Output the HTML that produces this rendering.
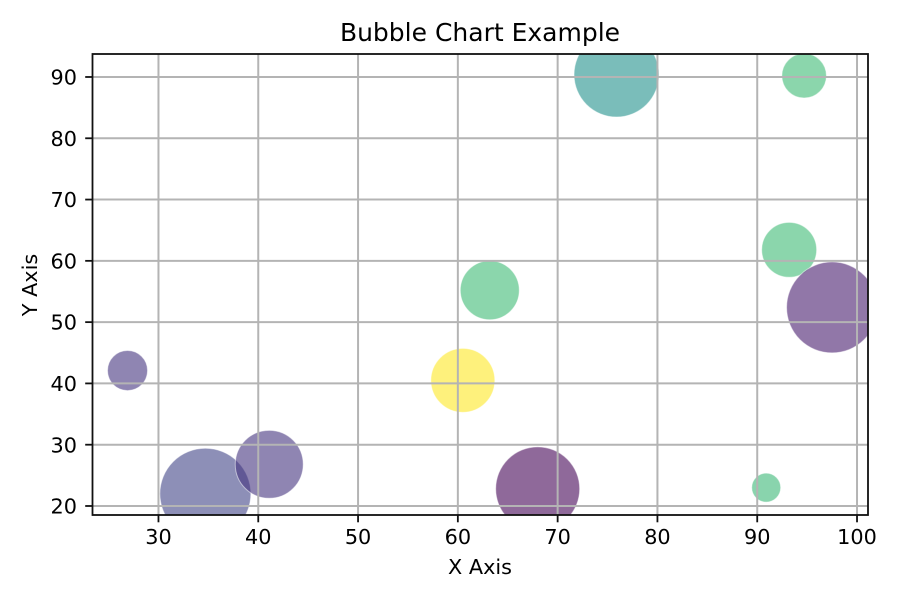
<!DOCTYPE html>
<html>
<head>
<meta charset="utf-8">
<style>
html,body{margin:0;padding:0;background:#fff;}
svg{display:block;}
text{font-family:"DejaVu Sans","Liberation Sans",sans-serif;fill:#000;}
</style>
</head>
<body>
<svg id="chart" width="900" height="600" viewBox="0 0 900 600" xmlns="http://www.w3.org/2000/svg">
  <defs><clipPath id="plot-clip"><rect x="92.5" y="54" width="775.5" height="461"></rect></clipPath></defs>
  <rect width="900" height="600" fill="#fff"></rect>
  <g id="bubbles" clip-path="url(#plot-clip)"></g>
  <g id="grid"></g>
  <g id="ticks"></g>
  <rect x="92.5" y="54" width="775.5" height="461" fill="none" stroke="#111" stroke-width="1.8"></rect>
  <text x="480" y="41" font-size="25" text-anchor="middle">Bubble Chart Example</text>
  <text x="480" y="574" font-size="20.8" text-anchor="middle">X Axis</text>
  <text transform="translate(37,285) rotate(-90)" font-size="20.8" text-anchor="middle">Y Axis</text>
</svg>
<script>
const xValues = [26.9, 34.7, 41.1, 60.5, 63.2, 68.0, 75.9, 90.9, 93.2, 94.7, 97.5];
const yValues = [42.1, 22.0, 26.8, 40.5, 55.2, 22.8, 90.4, 23.0, 61.8, 90.2, 52.4];
const sizeValues = [290, 1498, 836, 741, 630, 1277, 1307, 152, 547, 360, 1498];
const colorValues = [0.15, 0.2, 0.15, 1.0, 0.68, 0.01, 0.5, 0.67, 0.68, 0.68, 0.08];
const xTickLabels = [30, 40, 50, 60, 70, 80, 90, 100];
const yTickLabels = [20, 30, 40, 50, 60, 70, 80, 90];
const xDomain = [23.39, 101.1];
const yDomain = [18.53, 93.75];

const plot = {left: 92.5, right: 868, top: 54, bottom: 515};
const viridis = ['#440154','#482475','#414487','#355f8d','#2a788e','#21918c','#22a884','#44bf70','#7ad151','#bddf26','#fde725'];
const NS = 'http://www.w3.org/2000/svg';

function xScale(v) {
  return plot.left + (v - xDomain[0]) / (xDomain[1] - xDomain[0]) * (plot.right - plot.left);
}
function yScale(v) {
  return plot.bottom - (v - yDomain[0]) / (yDomain[1] - yDomain[0]) * (plot.bottom - plot.top);
}
function radius(s) {
  return Math.sqrt(s / Math.PI) * 150 / 72;
}
function hexToRgb(h) {
  return [1, 3, 5].map(function (i) { return parseInt(h.substr(i, 2), 16); });
}
function colorScale(t) {
  const p = Math.max(0, Math.min(1, t)) * (viridis.length - 1);
  const i = Math.min(Math.floor(p), viridis.length - 2);
  const a = hexToRgb(viridis[i]), b = hexToRgb(viridis[i + 1]);
  const f = p - i;
  return 'rgb(' + a.map(function (c, k) { return Math.round(c + (b[k] - c) * f); }).join(',') + ')';
}
function make(tag, parent, attrs) {
  const el = document.createElementNS(NS, tag);
  Object.keys(attrs).forEach(function (k) { el.setAttribute(k, attrs[k]); });
  parent.appendChild(el);
  return el;
}

const bubblesG = document.getElementById('bubbles');
const gridG = document.getElementById('grid');
const ticksG = document.getElementById('ticks');

xValues.forEach(function (x, i) {
  const c = make('circle', bubblesG, {
    cx: xScale(x), cy: yScale(yValues[i]), r: radius(sizeValues[i]),
    fill: colorScale(colorValues[i]), 'fill-opacity': 0.6,
    stroke: '#fff', 'stroke-opacity': 0.5, 'stroke-width': 1
  });
  
  
});

xTickLabels.forEach(function (v) {
  const px = xScale(v);
  const g = make('line', gridG, {x1: px, x2: px, y1: plot.top, y2: plot.bottom, stroke: '#b4b4b4', 'stroke-width': 2});
  
  
  const t = make('line', ticksG, {x1: px, x2: px, y1: plot.bottom, y2: plot.bottom + 7.3, stroke: '#111', 'stroke-width': 1.8});
  
  
  const l = make('text', ticksG, {x: px, y: 544, 'font-size': 20.8, 'text-anchor': 'middle'});
  l.textContent = v;
  
  
});

yTickLabels.forEach(function (v) {
  const py = yScale(v);
  const g = make('line', gridG, {x1: plot.left, x2: plot.right, y1: py, y2: py, stroke: '#b4b4b4', 'stroke-width': 2});
  
  
  const t = make('line', ticksG, {x1: plot.left - 7.3, x2: plot.left, y1: py, y2: py, stroke: '#111', 'stroke-width': 1.8});
  
  
  const l = make('text', ticksG, {x: 77, y: py + 7.6, 'font-size': 20.8, 'text-anchor': 'end'});
  l.textContent = v;
  
  
});
</script>
</body>
</html>
